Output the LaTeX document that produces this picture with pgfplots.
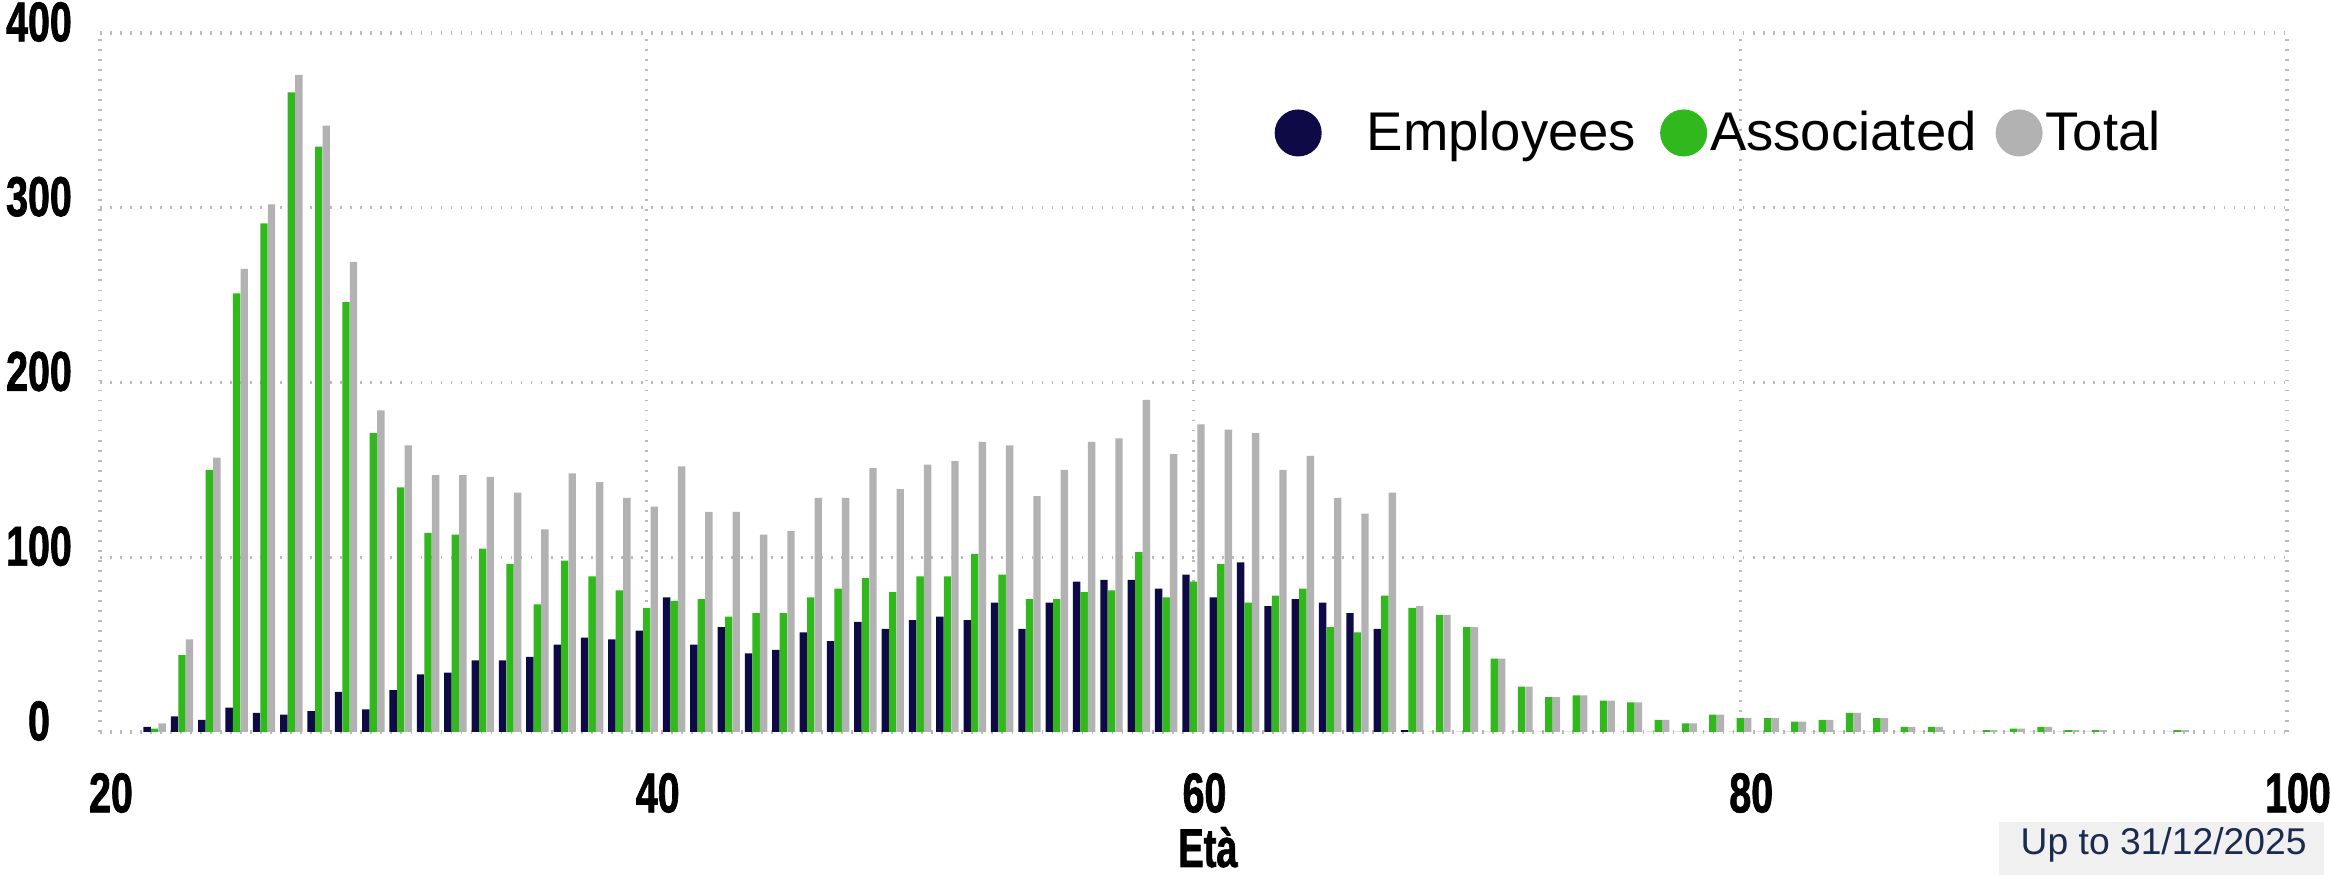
\documentclass[border=0pt]{standalone}
\usepackage{fontspec}
\setmainfont{Liberation Sans}
\newfontfamily\tickfont{Liberation Sans}[UprightFont={* Bold}, FakeStretch=0.7, FakeBold=1.2]
\usepackage{pgfplots}
\usepackage{pgfplotstable}
\pgfplotsset{compat=1.18}
\definecolor{cemp}{HTML}{0D0A45}
\definecolor{cass}{HTML}{30B81C}
\definecolor{ctot}{HTML}{B2B2B2}
\definecolor{cgrid}{HTML}{BBBBBB}
\definecolor{cbox}{HTML}{F0F0F0}
\definecolor{cnote}{HTML}{1B2A4F}

% age, employees, associated, total (as of 31/12/2025)
\pgfplotstableread{
age emp ass tot
22 3 2 5
23 9 44 53
24 7 150 157
25 14 251 265
26 11 291 302
27 10 366 376
28 12 335 347
29 23 246 269
30 13 171 184
31 24 140 164
32 33 114 147
33 34 113 147
34 41 105 146
35 41 96 137
36 43 73 116
37 50 98 148
38 54 89 143
39 53 81 134
40 58 71 129
41 77 75 152
42 50 76 126
43 60 66 126
44 45 68 113
45 47 68 115
46 57 77 134
47 52 82 134
48 63 88 151
49 59 80 139
50 64 89 153
51 66 89 155
52 64 102 166
53 74 90 164
54 59 76 135
55 74 76 150
56 86 80 166
57 87 81 168
58 87 103 190
59 82 77 159
60 90 86 176
61 77 96 173
62 97 74 171
63 72 78 150
64 76 82 158
65 74 60 134
66 68 57 125
67 59 78 137
68 1 71 72
69 0 67 67
70 0 60 60
71 0 42 42
72 0 26 26
73 0 20 20
74 0 21 21
75 0 18 18
76 0 17 17
77 0 7 7
78 0 5 5
79 0 10 10
80 0 8 8
81 0 8 8
82 0 6 6
83 0 7 7
84 0 11 11
85 0 8 8
86 0 3 3
87 0 3 3
89 0 1 1
90 0 2 2
91 0 3 3
92 0 1 1
93 0 1 1
96 0 1 1
}\agedata

\begin{document}
\begin{tikzpicture}
\begin{axis}[
  at={(0,0)}, anchor=south west,
  scale only axis, width=218.7mm, height=69.9mm,
  xmin=20, xmax=100, ymin=0, ymax=400,
  xtick={20,40,60,80,100}, ytick={0,100,200,300,400},
  axis line style={draw=none}, tick style={draw=none},
  grid=major,
  major grid style={cgrid, line width=0.9pt, dash pattern=on 0.5pt off 2.35pt},
  /pgf/number format/assume math mode=true,
  tick label style={font=\tickfont\fontsize{16}{16}\selectfont},
  xticklabel style={anchor=center, yshift=-4.6mm, xshift=1.1mm},
  yticklabel style={anchor=center, xshift=-6.1mm, yshift=1.1mm},
  xlabel={Età},
  xlabel style={at={(axis description cs:0.5066,0)}, anchor=base,
                yshift=-13.5mm, font=\tickfont\fontsize{15.5}{15.5}\selectfont},
  ybar, bar width=0.27,
  legend columns=3,
  legend image code/.code={\fill[#1] (2.35mm,0mm) circle (2.35mm);},
  legend style={at={(rel axis cs:0.5368,0.857)}, anchor=west, draw=none,
                fill=none, inner sep=0pt, nodes={inner xsep=0pt},
                font=\fontsize{15.5}{18}\selectfont,
                /tikz/every odd column/.append style={column sep=0.3mm},
                /tikz/every even column/.append style={column sep=0mm}},
]
\addplot[fill=cemp, draw=none, bar shift=-0.275] table[x=age, y=emp] {\agedata};
\addplot[fill=cass, draw=none, bar shift=0] table[x=age, y=ass] {\agedata};
\addplot[fill=ctot, draw=none, bar shift=0.275] table[x=age, y=tot] {\agedata};
\legend{\hspace{4.2mm}Employees\rule{2.4mm}{0pt}, Associated\rule{1.9mm}{0pt}, Total}
\end{axis}
\fill[cbox] (189.9mm,-9.0mm) rectangle (222.4mm,-17mm);
\node[anchor=base west, inner sep=0pt, text=cnote, font=\fontsize{10.6}{12}\selectfont]
  at (192mm,-12.3mm) {Up to 31/12/2025};
\pgfresetboundingbox
\useasboundingbox (-10mm,-14.3mm) rectangle (223.1mm,73.2mm);
\end{tikzpicture}
\end{document}
